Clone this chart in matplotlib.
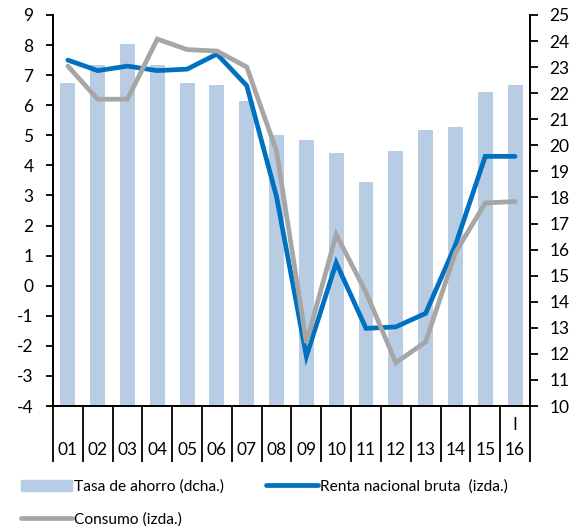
import numpy as np
import matplotlib.pyplot as plt
from matplotlib.patches import Patch
from matplotlib.lines import Line2D

plt.rcParams['font.family'] = ['Lato', 'DejaVu Sans']
plt.rcParams['axes.unicode_minus'] = False

years = ['01', '02', '03', '04', '05', '06', '07', '08',
         '09', '10', '11', '12', '13', '14', '15', 'I\n16']

# Tasa de ahorro (eje dcha.)
ahorro = [22.4, 23.1, 23.9, 23.1, 22.4, 22.3, 21.7, 20.4,
          20.2, 19.7, 18.6, 19.8, 20.6, 20.7, 22.05, 22.3]
# Renta nacional bruta (eje izda.)
renta = [7.5, 7.15, 7.3, 7.15, 7.2, 7.7, 6.65, 2.95,
         -2.35, 0.76, -1.42, -1.37, -0.92, 1.35, 4.3, 4.3]
# Consumo (eje izda.)
consumo = [7.3, 6.2, 6.2, 8.2, 7.85, 7.8, 7.27, 4.47,
           -1.9, 1.7, -0.22, -2.56, -1.87, 1.1, 2.75, 2.8]

c_bar = '#B8CCE4'
c_renta = '#0070C0'
c_cons = '#A6A6A6'

fig = plt.figure(figsize=(5.86, 5.31), dpi=100)
ax = fig.add_axes([0.0904, 0.2354, 0.814, 0.7364])
ax2 = ax.twinx()

x = np.arange(len(years))
ax2.bar(x, ahorro, width=0.5, color=c_bar)
ax2.set_ylim(10, 25)
ax2.set_yticks(range(10, 26))

ax.plot(x, renta, color=c_renta, lw=3.4, solid_capstyle='round', solid_joinstyle='miter')
ax.plot(x, consumo, color=c_cons, lw=3.4, solid_capstyle='round', solid_joinstyle='miter')
ax.set_ylim(-4, 9)
ax.set_yticks(range(-4, 10))
ax.set_xlim(-0.5, len(years) - 0.5)

ax.set_zorder(ax2.get_zorder() + 1)
ax.patch.set_visible(False)

for a in (ax, ax2):
    a.spines['top'].set_visible(False)
    for s in a.spines.values():
        s.set_linewidth(1.3)

ax.tick_params(axis='y', direction='out', length=5, width=1.3, labelsize=12.5, pad=9)
ax2.tick_params(axis='y', direction='out', length=6, width=1.3, labelsize=12.5, pad=8)

# x axis: long separators between categories, labels centered
ax.set_xticks(np.arange(-0.5, len(years), 1))
ax.set_xticklabels([])
ax.tick_params(axis='x', which='major', direction='out', length=40, width=1.3)
ax.set_xticks(x, minor=True)
ax.set_xticklabels(['\n' + y if '\n' not in y else y for y in years], minor=True,
                   linespacing=1.65)
ax.tick_params(axis='x', which='minor', length=0, labelsize=12.5, pad=8)

handles = [Patch(color=c_bar),
           Line2D([], [], color=c_cons, lw=3.4, solid_capstyle='round'),
           Line2D([], [], color=c_renta, lw=3.4, solid_capstyle='round')]
labels = ['Tasa de ahorro (dcha.)', 'Consumo (izda.)', 'Renta nacional bruta  (izda.)']
fig.legend(handles, labels, loc='upper left', bbox_to_anchor=(0.035, 0.097), ncol=2,
           frameon=False, fontsize=11.2, handlelength=3.3, handletextpad=0.15,
           columnspacing=2.7, labelspacing=1.2, borderpad=0, borderaxespad=0)

fig.savefig('out.png', dpi=100)
